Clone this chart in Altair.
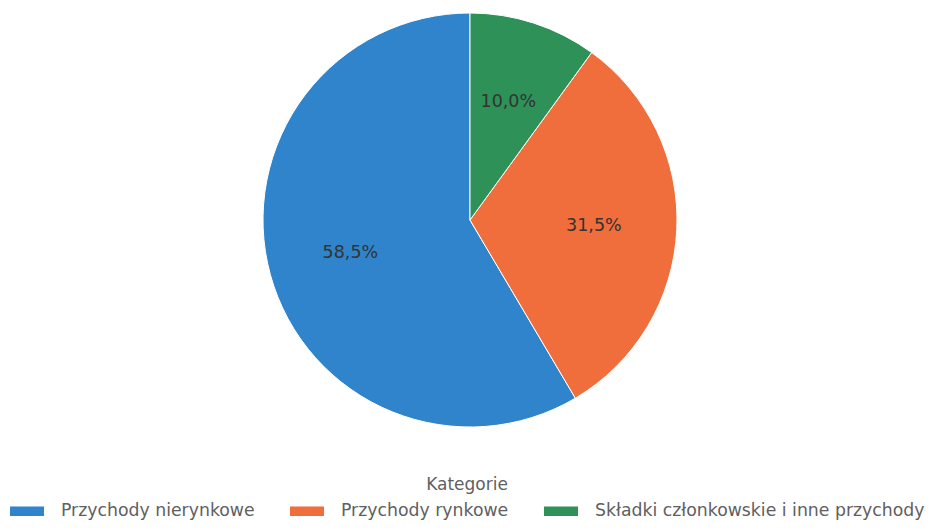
import altair as alt
import pandas as pd

categories = ["Przychody nierynkowe", "Przychody rynkowe", "Składki członkowskie i inne przychody"]
values = [58.5, 31.5, 10.0]
labels = ["58,5%", "31,5%", "10,0%"]
colors = ["#2f84cb", "#f06d3c", "#2e9157"]
slice_order = [2, 1, 0]

df = pd.DataFrame({"Kategorie": categories, "value": values, "label": labels, "ord": slice_order})

base = alt.Chart(df).encode(
    theta=alt.Theta("value:Q", stack=True),
    order=alt.Order("ord:Q", sort="ascending"),
)

pie = base.mark_arc(outerRadius=207, stroke="white", strokeWidth=1).encode(
    x=alt.value(462),
    y=alt.value(212),
    color=alt.Color(
        "Kategorie:N",
        scale=alt.Scale(domain=categories, range=colors),
        legend=alt.Legend(
            orient="none",
            legendX=2,
            legendY=469,
            direction="horizontal",
            title="Kategorie",
            titleOrient="top",
            titleAnchor="middle",
            titleFont="DejaVu Sans",
            titleFontSize=17,
            titleFontWeight="normal",
            titleColor="#606060",
            titlePadding=0,
            labelFont="DejaVu Sans",
            labelFontSize=17.3,
            labelColor="#606060",
            labelOffset=17,
            columnPadding=35,
            symbolType="M-1,-0.28L1,-0.28L1,0.28L-1,0.28Z",
            symbolSize=1156,
            symbolStrokeWidth=0,
            labelLimit=400,
        ),
    ),
)

text = base.mark_text(radius=124, font="DejaVu Sans", fontSize=17.5, color="#333333").encode(
    x=alt.value(462),
    y=alt.value(212),
    text="label:N",
)

chart = (pie + text).properties(
    width=917,
    height=514,
    padding=0,
    autosize=alt.AutoSizeParams(type="none"),
).configure_view(stroke=None)

chart.save("out.html", embed_options={"renderer": "svg", "actions": False})
